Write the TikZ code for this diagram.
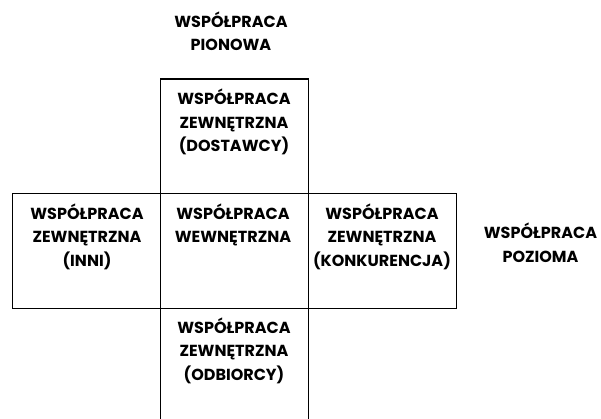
\documentclass[tikz,border=0pt]{standalone}
\usepackage{fontspec}
\setmainfont{Poppins}
\begin{document}
\begin{tikzpicture}[x=1pt,y=-1pt,
  cell/.style={draw=black, line width=1.3pt, minimum width=148pt, minimum height=114.5pt, inner sep=0pt, anchor=north west},
  lbl/.style={font=\fontsize{16}{23.5}\selectfont\bfseries, align=center, anchor=base, inner sep=0pt, text=black}]
\useasboundingbox (0,0) rectangle (601,419);
\clip (0,0) rectangle (601,419);
% boxes
\node[cell] (top) at (160,78.5) {};
\node[cell] (left) at (12,193) {};
\node[cell] (center) at (160,193) {};
\node[cell] (right) at (308,193) {};
\node[cell, minimum height=130pt] (bottom) at (160,307.5) {};
% texts (anchored at the baseline of the last line)
\node[lbl] (pion) at (231,51) {WSPÓŁPRACA\\PIONOWA};
\node[lbl] (tt) at (234,152) {WSPÓŁPRACA\\ZEWNĘTRZNA\\(DOSTAWCY)};
\node[lbl] (lt) at (87,266) {WSPÓŁPRACA\\ZEWNĘTRZNA\\(INNI)};
\node[lbl] (ct) at (233,243) {WSPÓŁPRACA\\WEWNĘTRZNA};
\node[lbl] (rt) at (382,266) {WSPÓŁPRACA\\ZEWNĘTRZNA\\(KONKURENCJA)};
\node[lbl] (poz) at (540.5,262) {WSPÓŁPRACA\\POZIOMA};
\node[lbl] (bt) at (234,380) {WSPÓŁPRACA\\ZEWNĘTRZNA\\(ODBIORCY)};
\end{tikzpicture}
\end{document}
